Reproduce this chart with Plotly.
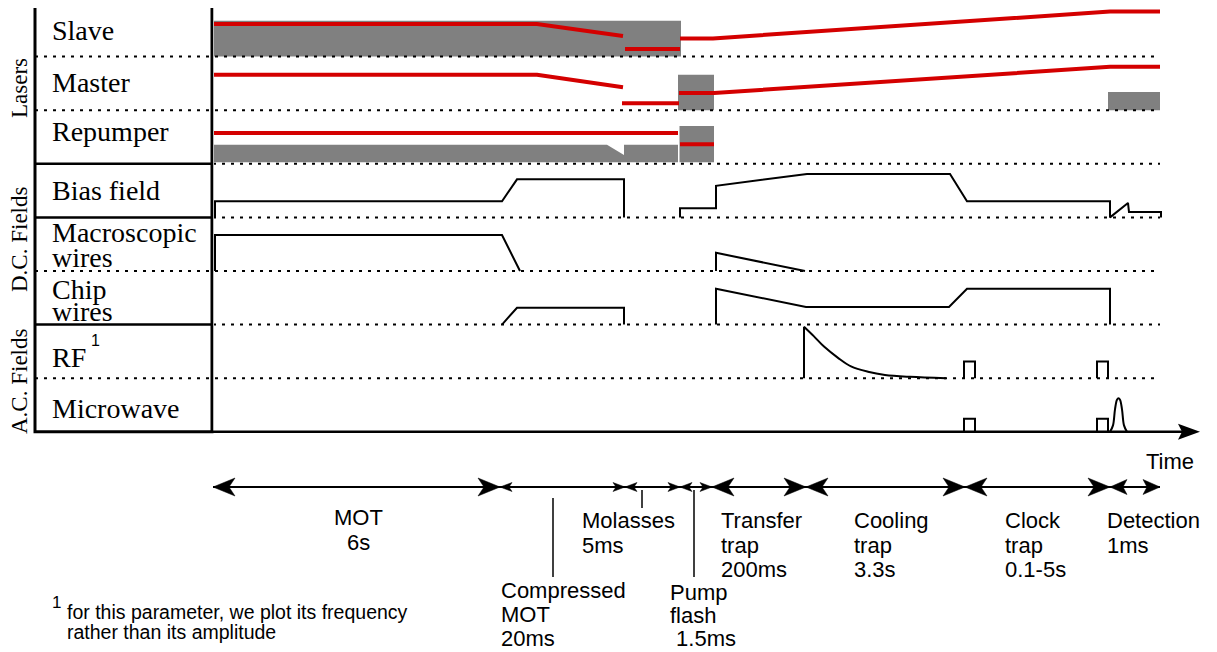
import plotly.graph_objects as go

# ---------------- data (schematic units: time in px-like units, levels as fraction of row height) -------------
channels = ["Slave", "Master", "Repumper", "Bias field", "Macroscopic\nwires", "Chip\nwires", "RF", "Microwave"]
groups = ["Lasers", "D.C. Fields", "A.C. Fields"]

phase_bounds = [213, 500, 625, 680, 712, 806, 965, 1110, 1160]
phase_heads = ["big", "small", "small", "small", "big", "big", "big", "mid"]

# lasers: red = frequency lines, gray = intensity blocks
slave_red = [([213, 537, 623], [0.61, 0.61, 0.385]),
             ([625, 680], [0.14, 0.14]),
             ([680, 713, 1110, 1160], [0.34, 0.34, 0.84, 0.84])]
slave_gray = [([213, 681, 681, 213], [0, 0, 0.667, 0.667])]

master_red = [([213, 537, 623], [0.66, 0.66, 0.43]),
              ([622, 679], [0.13, 0.13]),
              ([679, 714, 1110, 1160], [0.32, 0.32, 0.81, 0.81])]
master_gray = [([678, 714, 714, 678], [0, 0, 0.66, 0.66]),
               ([1108, 1160, 1160, 1108], [0, 0, 0.34, 0.34])]

repump_red = [([213, 678], [0.575, 0.575]),
              ([680, 714], [0.365, 0.365])]
repump_gray = [([213, 607, 624, 624, 678, 678, 213], [0.356, 0.356, 0.164, 0.356, 0.356, 0.03, 0.03]),
               ([679.5, 714, 714, 679.5], [0.03, 0.03, 0.705, 0.705])]

# D.C. fields
bias = [([215, 215, 502, 517, 624, 624], [0, 0.30, 0.30, 0.71, 0.71, 0]),
        ([680, 680, 716, 716, 807, 950, 967, 1110, 1110, 1128, 1129, 1161, 1161],
         [0, 0.17, 0.17, 0.59, 0.81, 0.81, 0.30, 0.30, 0, 0.27, 0.10, 0.10, 0])]
macro = [([215, 215, 502, 520], [0, 0.67, 0.67, 0]),
         ([716, 716, 805], [0, 0.34, 0])]
chip = [([502, 517, 624, 624], [0, 0.315, 0.315, 0]),
        ([716, 716, 806, 949, 967, 1110, 1110], [0, 0.67, 0.33, 0.33, 0.67, 0.67, 0])]

# A.C. fields
rf_lines = [([804, 804], [0, 0.96]),
            ([964, 964, 975, 975], [0, 0.31, 0.31, 0]),
            ([1097, 1097, 1108, 1108], [0, 0.31, 0.31, 0])]
rf_decay_t = [804, 814, 824, 838, 851, 868, 885, 910, 946]
rf_decay_v = [0.96, 0.78, 0.59, 0.38, 0.22, 0.12, 0.06, 0.025, 0.0]
mw_lines = [([964, 964, 975, 975], [0, 0.245, 0.245, 0]),
            ([1097, 1097, 1108, 1108], [0, 0.245, 0.245, 0])]
mw_peak_t = [1110, 1113, 1115, 1117, 1118.5, 1120, 1122, 1124, 1127]
mw_peak_v = [0, 0.12, 0.42, 0.6, 0.625, 0.6, 0.42, 0.12, 0]

# ---------------- geometry / style -------------
ROW_TOP = 3.0
ROW_H = 53.6
BOX_L, BOX_R = 35, 212
PLOT_L, PLOT_R = 213, 1160
RED = "#d40000"
GRAY = "#808080"
SERIF = "Liberation Serif"
SANS = "Liberation Sans"
PAGE_W, PAGE_H, BODY_MARGIN = 1217, 652, 8


def base(i):
    return ROW_TOP + (i + 1) * ROW_H


def ys(row, levels):
    return [base(row) - v * ROW_H for v in levels]


fig = go.Figure()


def poly(xs, yv, color, width=2, fill=None, shape="linear"):
    if fill:
        fig.add_trace(go.Scatter(x=xs, y=yv, mode="lines", fill="toself", fillcolor=fill,
                                 line=dict(width=0, color=fill), hoverinfo="skip"))
    else:
        fig.add_trace(go.Scatter(x=xs, y=yv, mode="lines", line=dict(width=width, color=color, shape=shape),
                                 hoverinfo="skip"))


# gray intensity blocks
for row, blocks in [(0, slave_gray), (1, master_gray), (2, repump_gray)]:
    for xs, lv in blocks:
        poly(xs, ys(row, lv), None, fill=GRAY)
# red frequency lines
for row, segs in [(0, slave_red), (1, master_red), (2, repump_red)]:
    for xs, lv in segs:
        poly(xs, ys(row, lv), RED, width=4)
# black field lines
for row, segs in [(3, bias), (4, macro), (5, chip), (6, rf_lines), (7, mw_lines)]:
    for xs, lv in segs:
        poly(xs, ys(row, lv), "black", width=2)
poly(rf_decay_t, ys(6, rf_decay_v), "black", width=2, shape="spline")
poly(mw_peak_t, ys(7, mw_peak_v), "black", width=2, shape="spline")

# ---------------- frame / grid lines -------------
shapes = []
DOT = "3px,6px"
for i in range(7):
    y = base(i)
    if i in (2, 3, 5):
        shapes.append(dict(type="line", x0=BOX_L, x1=BOX_R, y0=y, y1=y, line=dict(color="black", width=2.5)))
        shapes.append(dict(type="line", x0=PLOT_L, x1=PLOT_R, y0=y, y1=y, line=dict(color="black", width=2, dash=DOT)))
    else:
        shapes.append(dict(type="line", x0=BOX_L, x1=PLOT_R, y0=y, y1=y, line=dict(color="black", width=2, dash=DOT)))
shapes.append(dict(type="rect", x0=BOX_L, x1=BOX_R, y0=ROW_TOP, y1=base(7), line=dict(color="black", width=3)))
shapes.append(dict(type="line", x0=213.5, x1=213.5, y0=ROW_TOP, y1=base(7), line=dict(color="#bbbbbb", width=1)))
# time axis
AX_Y = base(7)
shapes.append(dict(type="line", x0=213, x1=1182, y0=AX_Y, y1=AX_Y, line=dict(color="black", width=2.5)))
fig.add_trace(go.Scatter(x=[1200, 1178, 1182, 1178, 1200], y=[AX_Y, AX_Y - 8, AX_Y, AX_Y + 8, AX_Y],
                         mode="lines", fill="toself", fillcolor="black", line=dict(width=0, color="black"),
                         hoverinfo="skip"))

# phase arrows
ARR_Y = 487
shapes.append(dict(type="line", x0=phase_bounds[0], x1=phase_bounds[-1], y0=ARR_Y, y1=ARR_Y,
                   line=dict(color="black", width=2)))
HEAD = {"big": (22, 9, 6), "mid": (17, 7.5, 4), "small": (12, 4.5, 3)}
hx, hy = [], []
for k, size in enumerate(phase_heads):
    L, W, n = HEAD[size]
    a, b = phase_bounds[k], phase_bounds[k + 1]
    for tip, d in ((a, -1), (b, 1)):
        hx += [tip, tip - d * L, tip - d * (L - n), tip - d * L, tip, None]
        hy += [ARR_Y, ARR_Y - W, ARR_Y, ARR_Y + W, ARR_Y, None]
fig.add_trace(go.Scatter(x=hx, y=hy, mode="lines", fill="toself", fillcolor="black",
                         line=dict(width=0.5, color="black"), hoverinfo="skip"))
# pointer lines
for x, y0, y1 in [(553, 498, 577), (642, 490, 508), (694, 490, 577)]:
    shapes.append(dict(type="line", x0=x, x1=x, y0=y0, y1=y1, line=dict(color="black", width=1.5)))

# ---------------- text -------------
ann = []


def txt(x, y, s, size, family, xanchor="left", angle=0, pad=1):
    ann.append(dict(x=x, y=y, text=s, showarrow=False, xanchor=xanchor, yanchor="middle",
                    textangle=angle, borderpad=pad,
                    font=dict(size=size, family=family, color="black")))


label_y = [[30], [82], [131], [190], [232, 257], [289, 311], [357], [408]]
for name, yl in zip(channels, label_y):
    for line, y in zip(name.split("\n"), yl):
        txt(50, y, line, 28, SERIF)
txt(89, 340, "1", 16, SANS)
for name, y in zip(groups, [88, 240, 382]):
    txt(19, y, name, 23, SERIF, xanchor="center", angle=-90, pad=0)

TS = 22
phase_text = [
    (358, [517, 542], ["MOT", "6s"], "center"),
    (580, [520, 545], ["Molasses", "5ms"], "left"),
    (499, [590, 614, 638], ["Compressed", "MOT", "20ms"], "left"),
    (668, [592, 615, 638], ["Pump", "flash", " 1.5ms"], "left"),
    (719, [520, 545, 569], ["Transfer", "trap", "200ms"], "left"),
    (852, [520, 545, 569], ["Cooling", "trap", "3.3s"], "left"),
    (1003, [520, 545, 569], ["Clock", "trap", "0.1-5s"], "left"),
    (1105, [520, 545], ["Detection", "1ms"], "left"),
]
for x, yl, lines, anc in phase_text:
    for s, y in zip(lines, yl):
        txt(x, y, s, TS, SANS, xanchor=anc)
txt(1170, 461, "Time", TS, SANS, xanchor="center")

txt(50, 602, "1", 17, SANS)
txt(65, 612, "for this parameter, we plot its frequency", 19.5, SANS)
txt(65, 632, "rather than its amplitude", 19.5, SANS)

# the page body has an 8px margin: shrink the figure and start the ranges at that offset
fig.update_layout(
    width=PAGE_W - BODY_MARGIN, height=PAGE_H - BODY_MARGIN, margin=dict(l=0, r=0, t=0, b=0),
    paper_bgcolor="white", plot_bgcolor="white", showlegend=False,
    xaxis=dict(range=[BODY_MARGIN, PAGE_W], visible=False, fixedrange=True),
    yaxis=dict(range=[PAGE_H, BODY_MARGIN], visible=False, fixedrange=True),
    shapes=shapes, annotations=ann,
)
fig.write_html("out.html")
